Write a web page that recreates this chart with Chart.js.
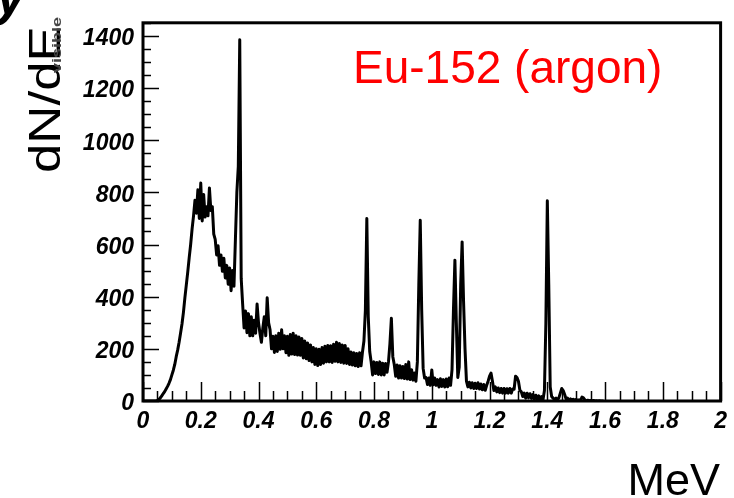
<!DOCTYPE html>
<html>
<head>
<meta charset="utf-8">
<script src="https://cdn.jsdelivr.net/npm/chart.js@4.4.1/dist/chart.umd.min.js"></script>
<style>
    html, body { margin: 0; padding: 0; background: #fff; }
    canvas { display: block; }
</style>
</head>
<body>
<canvas id="spectrumChart" width="734" height="498"></canvas>
<script>
// Eu-152 (argon) spectrum, counts per 5 keV bin
const binWidth = 0.005; // MeV
const counts = [
    0, 0, 0, 0, 0, 0, 0, 0, 0, 0, 2, 6, 12, 20, 28, 36, 46, 56, 68, 82,                       // 0.0
    100, 118, 140, 170, 195, 225, 260, 295, 340, 395, 445, 495, 550, 600, 660, 710, 770, 720, 810, 700, // 0.1
    836, 690, 792, 705, 745, 710, 817, 730, 745, 640, 620, 560, 595, 520, 560, 497, 547, 472, 520, 448, // 0.2
    510, 423, 500, 440, 620, 800, 900, 1385, 470, 372, 280, 345, 262, 335, 250, 323, 250, 310, 260, 372, // 0.3
    300, 260, 225, 280, 323, 250, 396, 300, 273, 200, 248, 186, 250, 190, 260, 198, 273, 200, 250, 185, // 0.4
    248, 175, 255, 180, 260, 178, 250, 176, 245, 175, 240, 165, 230, 162, 222, 155, 215, 150, 205, 140, // 0.5
    200, 136, 198, 140, 205, 145, 210, 150, 213, 150, 212, 148, 218, 152, 225, 150, 220, 148, 215, 145, // 0.6
    213, 144, 200, 140, 188, 138, 185, 135, 182, 132, 185, 135, 188, 230, 348, 700, 323, 190, 150, 100, // 0.7
    150, 105, 148, 102, 150, 100, 145, 100, 144, 110, 150, 220, 317, 170, 140, 95, 138, 88, 135, 88,    // 0.8
    132, 86, 140, 84, 150, 82, 120, 80, 107, 76, 150, 446, 693, 348, 125, 88, 90, 63, 88, 60,          // 0.9
    119, 62, 88, 60, 82, 54, 85, 56, 82, 54, 84, 55, 88, 60, 120, 350, 540, 300, 90, 130,              // 1.0
    446, 610, 380, 200, 76, 54, 72, 50, 70, 48, 68, 48, 70, 46, 65, 43, 63, 41, 60, 76,                // 1.1
    95, 107, 76, 40, 54, 35, 50, 32, 48, 30, 48, 30, 47, 30, 48, 30, 46, 45, 95, 90,                   // 1.2
    76, 41, 35, 17, 30, 11, 30, 12, 28, 10, 25, 8, 22, 6, 20, 5, 17, 5, 40, 300,                       // 1.3
    768, 446, 54, 17, 11, 6, 11, 5, 12, 30, 48, 40, 25, 8, 11, 4, 8, 3, 7, 3,                          // 1.4
    6, 2, 5, 2, 15, 12, 4, 1, 3, 1, 2, 0, 2, 0, 1, 0, 1, 0, 0, 0                                       // 1.5
];
const xTicks = [0, 0.2, 0.4, 0.6, 0.8, 1, 1.2, 1.4, 1.6, 1.8, 2];
const yTicks = [0, 200, 400, 600, 800, 1000, 1200, 1400];

const tickFont = { family: 'Liberation Sans', size: 23, weight: 'bold', style: 'italic' };

// ROOT style frame with ticks drawn inside, plus the loose text labels
const frameAndText = {
    id: 'frameAndText',
    afterDatasetsDraw(chart) {
        const { ctx, chartArea: a, scales: { x, y } } = chart;
        ctx.save();
        ctx.strokeStyle = '#000';
        ctx.lineWidth = 1.5;
        ctx.beginPath();
        for (let i = 0; i <= 40; i++) {
            const px = Math.round(x.getPixelForValue(i * 0.05)) + 0.5;
            const len = i % 4 === 0 ? 19 : 10;
            ctx.moveTo(px, a.bottom);
            ctx.lineTo(px, a.bottom - len);
        }
        for (let i = 0; i * 50 <= 1450; i++) {
            const py = Math.round(y.getPixelForValue(i * 50)) + 0.5;
            const len = i % 4 === 0 ? 16 : 8;
            ctx.moveTo(a.left, py);
            ctx.lineTo(a.left + len, py);
        }
        ctx.stroke();
        ctx.lineWidth = 3;
        ctx.strokeRect(a.left, a.top, a.right - a.left, a.bottom - a.top);
        ctx.restore();
    },
    afterDraw(chart) {
        const ctx = chart.ctx;
        ctx.save();
        ctx.fillStyle = '#ff0000';
        ctx.font = '46px "Liberation Sans"';
        ctx.textAlign = 'left';
        ctx.textBaseline = 'alphabetic';
        ctx.fillText('Eu-152 (argon)', 353, 83);

        ctx.fillStyle = '#000';
        ctx.font = '45px "Liberation Sans"';
        ctx.textAlign = 'right';
        ctx.fillText('MeV', 720, 495);

        // cropped bit of the title above the axis label
        ctx.font = 'bold italic 54px "Liberation Sans"';
        ctx.textAlign = 'left';
        ctx.fillText('y', -4, 14);

        // vertical axis title
        ctx.translate(60, 173);
        ctx.rotate(-Math.PI / 2);
        ctx.save();
        ctx.scale(1.2, 1);
        ctx.font = '44px "Liberation Sans"';
        ctx.fillText('dN/dE', 0, 0);
        ctx.restore();
        ctx.fillStyle = '#444';
        ctx.font = 'bold 12px "Liberation Sans"';
        ctx.save();
        ctx.translate(100, 1);
        ctx.scale(1.5, 1);
        ctx.fillText('visible', 0, 0);
        ctx.restore();
        ctx.restore();
    }
};

const ctx = document.getElementById('spectrumChart');
const spectrumChart = new Chart(ctx, {
    type: 'line',
    data: {
        datasets: [{
            label: 'Eu-152 (argon)',
            data: counts.map((c, i) => ({ x: i * binWidth, y: c })),
            borderColor: '#000',
            borderWidth: 3,
            borderJoinStyle: 'round',
            pointRadius: 0,
            tension: 0,
            fill: false
        }]
    },
    options: {
        responsive: false,
        animation: false,
        layout: { padding: { left: 0, right: 12, top: 9, bottom: 0 } },
        plugins: {
            legend: { display: false },
            tooltip: { enabled: false }
        },
        scales: {
            x: {
                type: 'linear',
                min: 0,
                max: 2,
                grid: { display: false, drawTicks: false },
                border: { display: false },
                afterBuildTicks: s => { s.ticks = xTicks.map(v => ({ value: v })); },
                afterFit: s => { s.height = 97; },
                ticks: {
                    color: '#000',
                    font: tickFont,
                    padding: 7,
                    maxRotation: 0,
                    callback: v => String(v)
                }
            },
            y: {
                type: 'linear',
                min: 0,
                max: 1450,
                grid: { display: false, drawTicks: false },
                border: { display: false },
                afterBuildTicks: s => { s.ticks = yTicks.map(v => ({ value: v })); },
                afterFit: s => { s.width = 143; },
                ticks: {
                    color: '#000',
                    font: tickFont,
                    padding: 9,
                    labelOffset: 3,
                    callback: v => String(v)
                }
            }
        }
    },
    plugins: [frameAndText]
});
</script>
</body>
</html>
